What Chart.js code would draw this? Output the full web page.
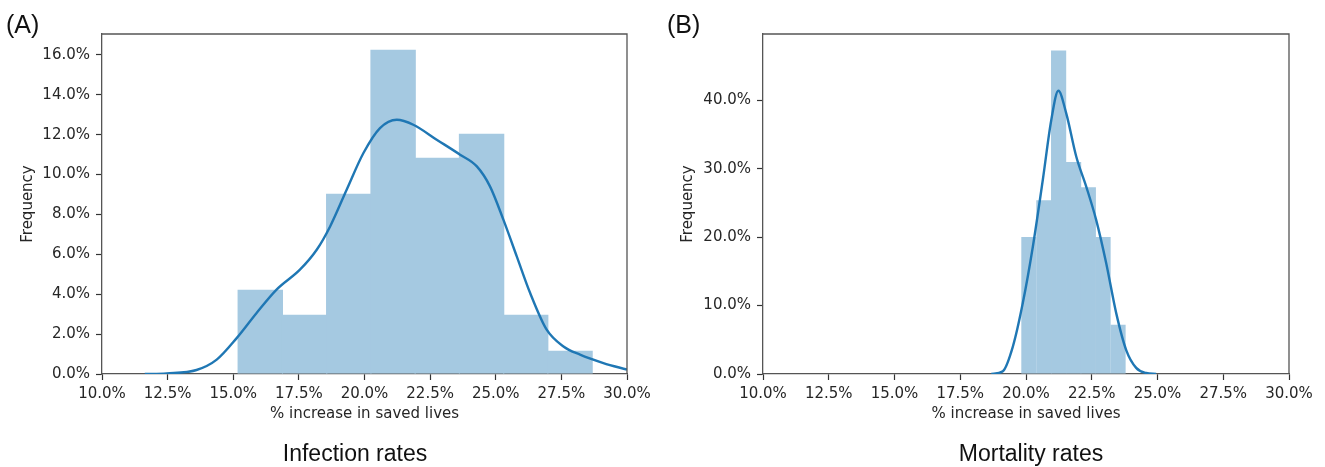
<!DOCTYPE html>
<html>
<head>
<meta charset="utf-8">
<script src="https://cdn.jsdelivr.net/npm/chart.js@4/dist/chart.umd.min.js"></script>
<style>
  body { margin: 0; background: #fff; }
  #page { position: relative; width: 1325px; height: 467px; overflow: hidden; }
  .panel { position: absolute; top: 0; height: 467px; }
  .label { position: absolute; font-family: "Liberation Sans", Arial, sans-serif; color: #111; white-space: nowrap; }
  .tag { font-size: 25px; top: 10px; }
  .caption { font-size: 23px; top: 440px; transform: translateX(-50%); }
</style>
</head>
<body>
<div id="page">
  <div class="panel" style="left:0;width:660px"><canvas id="chartA"></canvas></div>
  <div class="panel" style="left:660px;width:665px"><canvas id="chartB"></canvas></div>
  <div class="label tag" style="left:6px">(A)</div>
  <div class="label tag" style="left:667px">(B)</div>
  <div class="label caption" style="left:355px">Infection rates</div>
  <div class="label caption" style="left:1031px">Mortality rates</div>
</div>
<script>
var barColor = "#a5c9e1";
var lineColor = "#1f77b4";
var textColor = "#262626";
var spineColor = "#555555";

// x ticks shared by both panels
var xTicks = [10, 12.5, 15, 17.5, 20, 22.5, 25, 27.5, 30];

// (A) Infection rates
var infectionBins = [16.03, 17.72, 19.40, 21.09, 22.77, 24.46, 26.14, 27.83];
var infectionFreq = [4.23, 2.97, 9.04, 16.26, 10.85, 12.05, 2.97, 1.17];
var infectionKdeX = [11.63, 12.46, 13.6, 14.37, 15.13, 15.89, 16.65, 17.54, 18.18, 18.69, 19.32, 19.96, 20.59, 21.23, 21.86, 22.75, 23.64, 24.28, 24.78, 25.29, 25.8, 26.31, 26.94, 27.58, 28.21, 29.1, 30.0];
var infectionKdeY = [0.0, 0.03, 0.2, 0.72, 1.8, 3.06, 4.23, 5.23, 6.23, 7.4, 9.24, 11.08, 12.33, 12.75, 12.5, 11.75, 11.0, 10.41, 9.41, 7.74, 5.9, 4.06, 2.22, 1.38, 0.97, 0.55, 0.22];
var infectionYTicks = [0, 2, 4, 6, 8, 10, 12, 14, 16];

// (B) Mortality rates
var mortalityBins = [20.11, 20.68, 21.24, 21.81, 22.37, 22.93, 23.50];
var mortalityFreq = [20.04, 25.4, 47.3, 31.0, 27.3, 20.04, 7.2];
var mortalityKdeX = [18.68, 19.12, 19.5, 19.88, 20.26, 20.64, 20.96, 21.23, 21.53, 21.91, 22.29, 22.67, 23.05, 23.43, 23.81, 24.19, 24.57, 24.95];
var mortalityKdeY = [0.0, 0.4, 4.0, 10.4, 18.6, 28.4, 37.1, 41.4, 38.1, 31.8, 27.4, 22.5, 16.2, 8.9, 3.5, 0.9, 0.15, 0.0];
var mortalityYTicks = [0, 10, 20, 30, 40];

// draws top and right spines like matplotlib
var boxPlugin = {
  id: "box",
  afterDraw(chart) {
    const a = chart.chartArea;
    const ctx = chart.ctx;
    ctx.save();
    ctx.strokeStyle = spineColor;
    ctx.lineWidth = 1.3;
    ctx.beginPath();
    ctx.moveTo(a.left, a.top);
    ctx.lineTo(a.right, a.top);
    ctx.lineTo(a.right, a.bottom);
    ctx.stroke();
    ctx.restore();
  },
};

function pct(v) {
  return Number(v).toFixed(1) + "%";
}

function makeChart(id, width, bins, freq, kdeX, kdeY, yTicks, yMax, yAxisWidth, rightPad) {
  const canvas = document.getElementById(id);
  canvas.width = width;
  canvas.height = 467;
  canvas.style.width = width + "px";
  canvas.style.height = "467px";

  let bars = bins.map((x, i) => ({ x: x, y: freq[i] }));
  let kde = kdeX.map((x, i) => ({ x: x, y: kdeY[i] }));
  const tickFont = { family: "'DejaVu Sans', sans-serif", size: 15 };

  return new Chart(canvas, {
    data: {
      datasets: [
        {
          type: "line",
          data: kde,
          borderColor: lineColor,
          borderWidth: 2.4,
          pointRadius: 0,
          cubicInterpolationMode: "monotone",
          fill: false,
          order: 0,
        },
        {
          type: "bar",
          data: bars,
          backgroundColor: barColor,
          borderWidth: 0,
          // tiny overlap hides the antialias seams between bins
          barPercentage: 1.03,
          categoryPercentage: 1,
          order: 1,
        },
      ],
    },
    options: {
      responsive: false,
      animation: false,
      layout: { padding: { left: 0, right: rightPad, top: 34, bottom: 0 } },
      plugins: { legend: { display: false }, tooltip: { enabled: false } },
      scales: {
        x: {
          type: "linear",
          offset: false,
          min: 10,
          max: 30,
          afterBuildTicks: (s) => { s.ticks = xTicks.map((v) => ({ value: v })); },
          afterFit: (s) => { s.height = 93; },
          ticks: { color: textColor, font: tickFont, padding: 5, maxRotation: 0, callback: pct },
          grid: { offset: false, drawOnChartArea: false, drawTicks: true, tickLength: 6, tickColor: "#333", tickWidth: 1.2 },
          border: { color: spineColor, width: 1.3 },
          title: {
            display: true,
            text: "% increase in saved lives",
            color: textColor,
            font: tickFont,
            padding: { top: 0, bottom: 44 },
          },
        },
        y: {
          type: "linear",
          min: 0,
          max: yMax,
          afterBuildTicks: (s) => { s.ticks = yTicks.map((v) => ({ value: v })); },
          afterFit: (s) => { s.width = yAxisWidth; },
          ticks: { color: textColor, font: tickFont, padding: 6, callback: pct },
          grid: { drawOnChartArea: false, drawTicks: true, tickLength: 6, tickColor: "#333", tickWidth: 1.2 },
          border: { color: spineColor, width: 1.3 },
          title: {
            display: true,
            text: "Frequency",
            color: textColor,
            font: tickFont,
            padding: { top: 19, bottom: 0 },
          },
        },
      },
    },
    plugins: [boxPlugin],
  });
}

makeChart("chartA", 660, infectionBins, infectionFreq, infectionKdeX, infectionKdeY, infectionYTicks, 17.05, 102, 33);
makeChart("chartB", 665, mortalityBins, mortalityFreq, mortalityKdeX, mortalityKdeY, mortalityYTicks, 49.7, 103, 36);
</script>
</body>
</html>
